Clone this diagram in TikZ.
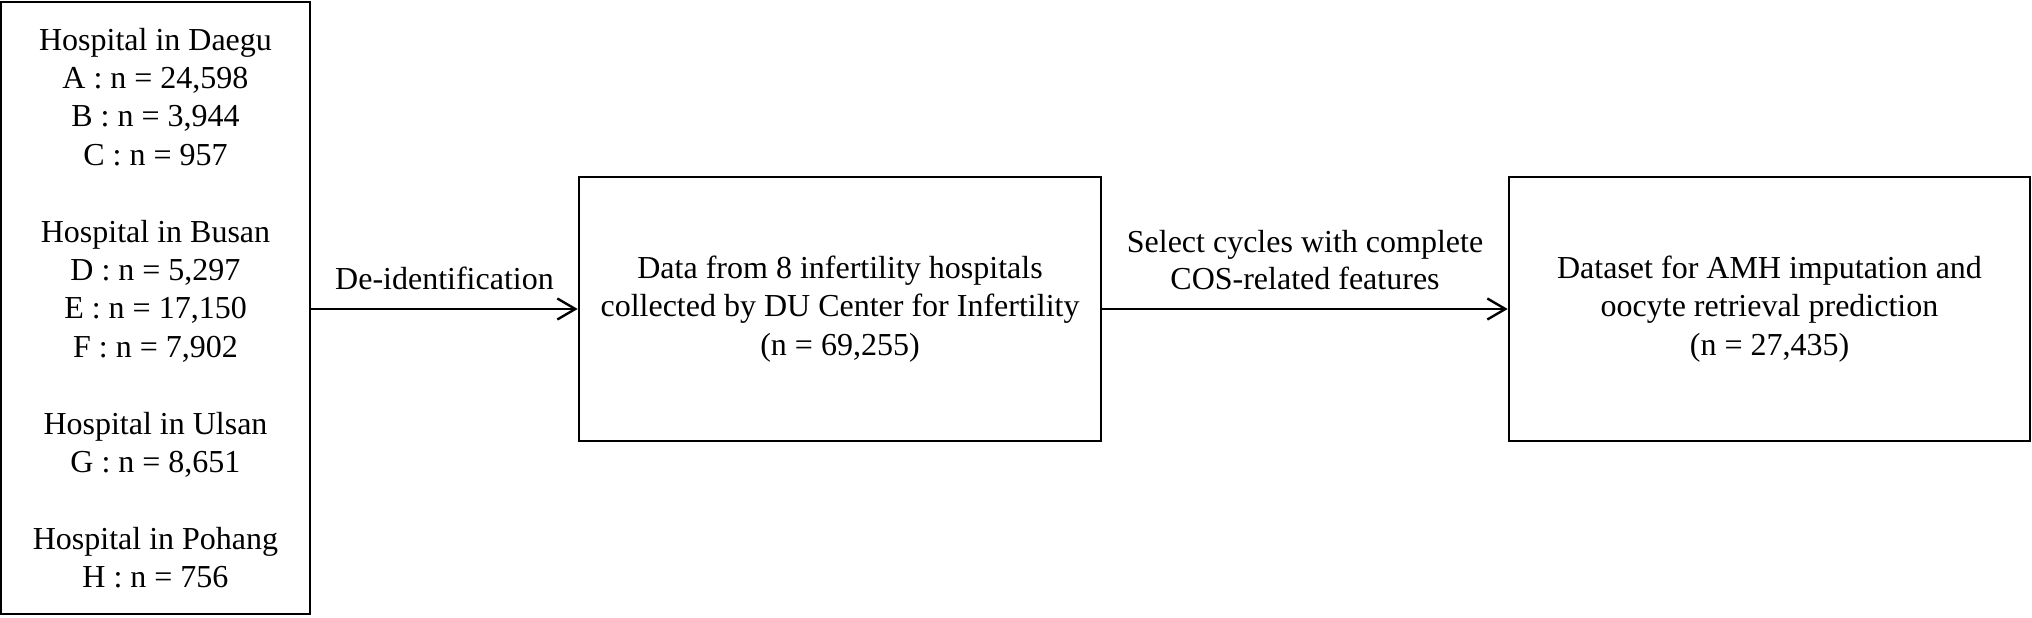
\documentclass[tikz,border=0pt]{standalone}
\usepackage{fontspec}
\setmainfont{Liberation Serif}
\usepackage{tikz}
\usetikzlibrary{arrows.meta}

\begin{document}
\begin{tikzpicture}[x=0.5pt,y=0.5pt,
	box/.style={draw,line width=1.3pt,inner sep=0pt,align=center,
		font=\fontsize{16}{19.2}\selectfont},
	arr/.style={line width=1.2pt,-{Straight Barb[length=9pt,width=10.5pt,line width=1.2pt]}},
	lab/.style={midway,above=9pt,inner sep=0pt,align=center,
		font=\fontsize{16}{18.6}\selectfont}]
	\useasboundingbox (0,0) rectangle (2032,617);
	\node[box,minimum width=154.5pt,minimum height=306pt] (src) at (155.5,309)
		{Hospital in Daegu\\A : n = 24,598\\B : n = 3,944\\C : n = 957\\[19.2pt]
		Hospital in Busan\\D : n = 5,297\\E : n = 17,150\\F : n = 7,902\\[19.2pt]
		Hospital in Ulsan\\G : n = 8,651\\[19.2pt]
		Hospital in Pohang\\H : n = 756};
	\node[box,minimum width=261pt,minimum height=132pt] (data) at (840,308)
		{Data from 8 infertility hospitals\\collected by DU Center for Infertility\\(n = 69,255)};
	\node[box,minimum width=260.5pt,minimum height=132pt] (set) at (1769.5,308)
		{Dataset for AMH imputation and\\oocyte retrieval prediction\\(n = 27,435)};
	\draw[arr] (src.east |- data.west) -- (data.west) node[lab]{De-identification};
	\draw[arr] (data.east) -- (set.west) node[lab]{Select cycles with complete\\COS-related features};
\end{tikzpicture}
\end{document}
